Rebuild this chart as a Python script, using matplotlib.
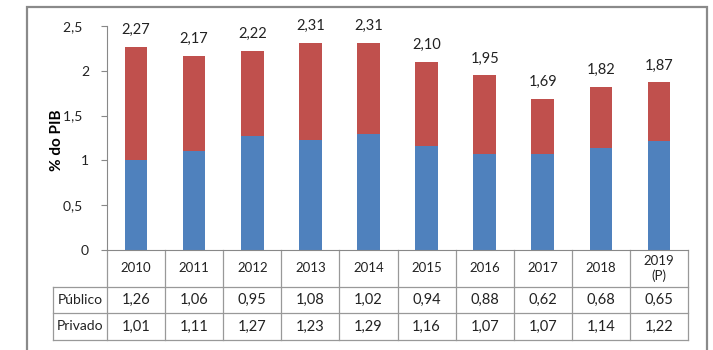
import matplotlib.pyplot as plt
from matplotlib.transforms import blended_transform_factory
from matplotlib.patches import Rectangle

anos = ['2010', '2011', '2012', '2013', '2014', '2015', '2016', '2017', '2018', '2019\n(P)']
publico = [1.26, 1.06, 0.95, 1.08, 1.02, 0.94, 0.88, 0.62, 0.68, 0.65]
privado = [1.01, 1.11, 1.27, 1.23, 1.29, 1.16, 1.07, 1.07, 1.14, 1.22]
totais = [2.27, 2.17, 2.22, 2.31, 2.31, 2.10, 1.95, 1.69, 1.82, 1.87]
yticks = [0, 0.5, 1, 1.5, 2, 2.5]
ytick_labels = ['0', '0,5  ', '1', '1,5  ', '2', '2,5  ']

def br(v):
    return f'{v:.2f}'.replace('.', ',')

plt.rcParams['font.family'] = ['Lato', 'DejaVu Sans']

W, H = 713, 350
fig = plt.figure(figsize=(W / 100, H / 100), dpi=100)

# axes in pixel positions
x0, x1, y0, y1 = 107, 688, 250, 26
ax = fig.add_axes([x0 / W, 1 - y0 / H, (x1 - x0) / W, (y0 - y1) / H])

x = list(range(len(anos)))
ax.bar(x, privado, width=0.39, color='#4F81BD', zorder=2)
ax.bar(x, publico, width=0.39, bottom=privado, color='#C0504D', zorder=2)

for i, t in enumerate(totais):
    ax.annotate(br(t), (i, t), xytext=(0, 7), textcoords='offset points',
                ha='center', va='bottom', fontsize=10.5, color='#222222')

ax.set_xlim(-0.5, len(anos) - 0.5)
ax.set_ylim(0, 2.5)
ax.set_yticks(yticks)
ax.set_yticklabels(ytick_labels)
ax.tick_params(axis='y', length=4, color='#888888', labelsize=10, labelcolor='#222222', pad=9)
ax.set_xticks([])
for s in ['top', 'right']:
    ax.spines[s].set_visible(False)
ax.spines['left'].set_color('#888888')
ax.spines['bottom'].set_color('#888888')
ax.set_ylabel('% do PIB', fontsize=11, fontweight='bold')
ax.yaxis.set_label_coords((64 - x0) / (x1 - x0), (y0 - 140) / (y0 - y1))

# data table under the axis
tr = blended_transform_factory(ax.transData, ax.transAxes)
def fy(py):
    return (y0 - py) / (y0 - y1)

row_y = [250, 287, 313, 340]
grid = '#999999'
lab_left = -0.5 - (x0 - 53) / ((x1 - x0) / len(anos))
for py in row_y[1:]:
    ax.plot([lab_left, len(anos) - 0.5], [fy(py)] * 2, transform=tr,
            color=grid, lw=0.9, clip_on=False)
ax.plot([lab_left, lab_left], [fy(287), fy(340)], transform=tr,
        color=grid, lw=0.9, clip_on=False)
for b in range(len(anos) + 1):
    ax.plot([b - 0.5, b - 0.5], [fy(250), fy(340)], transform=tr,
            color=grid, lw=0.9, clip_on=False)

for i, a in enumerate(anos):
    ax.text(i, fy(268.5), a, transform=tr, ha='center', va='center',
            fontsize=9.5, color='#222222', linespacing=1.15)
    ax.text(i, fy(300), br(publico[i]), transform=tr, ha='center', va='center',
            fontsize=10.5, color='#222222')
    ax.text(i, fy(326.5), br(privado[i]), transform=tr, ha='center', va='center',
            fontsize=10.5, color='#222222')

lab_x = (lab_left - 0.5) / 2
ax.text(lab_x, fy(300), 'Público', transform=tr, ha='center', va='center',
        fontsize=10, color='#222222')
ax.text(lab_x, fy(326.5), 'Privado', transform=tr, ha='center', va='center',
        fontsize=10, color='#222222')

# outer chart frame
fig.patches.append(Rectangle((27 / W, -0.02), (707 - 27) / W, 1 - 7 / H + 0.02,
                             transform=fig.transFigure, fill=False,
                             edgecolor='#8a8a8a', lw=1.6))

fig.savefig('out.png', dpi=100)
